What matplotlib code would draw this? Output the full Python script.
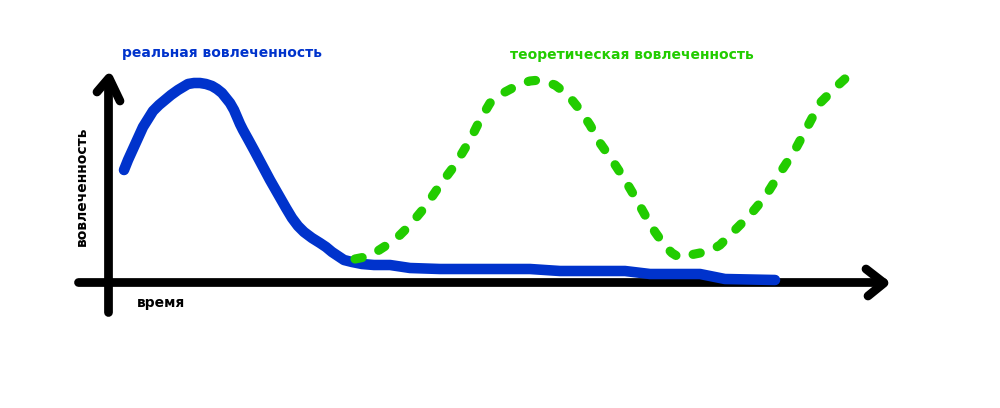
import matplotlib.pyplot as plt

# hand-drawn sketch: "real" vs "theoretical" engagement over time
# units: pixels from the axis origin (time right, engagement up)

real_time = [16, 20, 25, 30, 35, 40, 45, 51, 57, 63, 70, 75, 80, 86, 92, 98,
             104, 109, 114, 118, 122, 126, 129, 132, 135, 140, 146, 154, 162,
             170, 178, 184, 190, 196, 204, 212, 218, 224, 230, 236, 244, 254,
             266, 282, 302, 332, 422, 452, 517, 542, 592, 617, 667]
real_eng = [112, 122, 133, 144, 155, 163, 171, 177, 182, 187, 192, 195, 198,
            199, 199, 198, 196, 193, 189, 184, 179, 172, 165, 158, 152, 143,
            132, 117, 102, 88, 74, 64, 56, 50, 44, 39, 35, 30, 26, 22, 20, 18,
            17, 17, 14, 13, 13, 11, 11, 8, 8, 3, 2]

theory_time = [247, 262, 282, 292, 302, 317, 332, 347, 362, 372, 382, 397, 412,
               422, 432, 447, 460, 472, 482, 492, 504, 517, 527, 537, 547, 557,
               564, 572, 582, 592, 602, 612, 627, 642, 657, 672, 687, 702, 712,
               727, 740]
theory_eng = [23, 26, 39, 47, 57, 75, 97, 117, 142, 162, 179, 190, 198, 201,
              202, 197, 187, 172, 157, 139, 122, 102, 85, 67, 50, 36, 29, 24,
              27, 29, 31, 37, 52, 67, 85, 109, 132, 160, 179, 194, 206]

blue = "#0033cc"
green = "#22cc00"

fig = plt.figure(figsize=(10, 4.08), dpi=100)
ax = fig.add_axes([0, 0, 1, 1])
ax.set_xlim(-108, 892)
ax.set_ylim(-126, 282)
ax.axis("off")

# axes with arrows
axis_kw = dict(color="black", lw=6.3, solid_capstyle="round",
               solid_joinstyle="round")
ax.plot([0, 0], [-30, 200], **axis_kw)
ax.plot([-11, 1, 12], [190, 204, 181], **axis_kw)
ax.plot([-30, 775], [0, 0], **axis_kw)
ax.plot([758, 776, 760], [13, -1, -14], **axis_kw)

# real engagement
ax.plot(real_time, real_eng, color=blue, lw=7.6,
        solid_capstyle="round", solid_joinstyle="round")

# theoretical engagement (dotted-dash sketch)
ax.plot(theory_time, theory_eng, color=green, lw=6.6,
        dashes=(0.8, 2.0), dash_capstyle="round")

ax.text(14, 229, "реальная вовлеченность", color=blue, fontsize=10,
        fontweight="bold", va="center", ha="left")
ax.text(402, 227, "теоретическая вовлеченность", color=green, fontsize=10,
        fontweight="bold", va="center", ha="left")
ax.text(-26, 96, "вовлеченность", color="black", fontsize=10,
        fontweight="bold", rotation=90, va="center", ha="center")
ax.text(29, -21, "время", color="black", fontsize=10,
        fontweight="bold", va="center", ha="left")

fig.savefig("out.png", dpi=100)
